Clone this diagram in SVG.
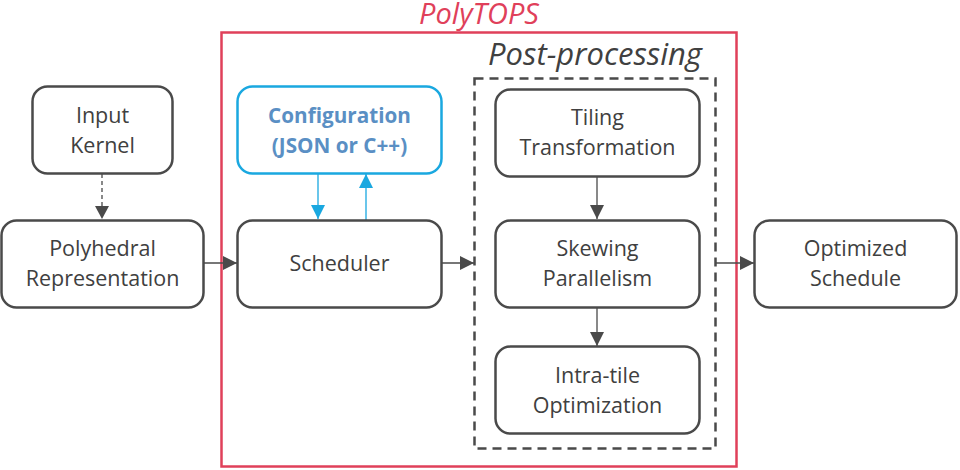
<svg xmlns="http://www.w3.org/2000/svg" width="960" height="470" viewBox="0 0 960 470">
<defs>
<style>
.box{fill:#fff;stroke:#4a4a4a;stroke-width:2.5}
.t{font-family:"Open Sans","Noto Sans",sans-serif;font-size:21.5px;fill:#404040;text-anchor:middle}
.c{stroke:#4a4a4a;stroke-width:1.3;fill:none}
.cb{stroke:#1aa8e0;stroke-width:1.3;fill:none}
</style>
<marker id="ah" viewBox="0 0 10 10" refX="10" refY="5" markerWidth="14" markerHeight="14" markerUnits="userSpaceOnUse" orient="auto"><path d="M0,0L10,5L0,10z" fill="#4a4a4a"/></marker>
<marker id="ahb" viewBox="0 0 10 10" refX="10" refY="5" markerWidth="14" markerHeight="14" markerUnits="userSpaceOnUse" orient="auto"><path d="M0,0L10,5L0,10z" fill="#1aa8e0"/></marker>
</defs>
<rect width="960" height="470" fill="#fff"/>
<g id="polytops">
<rect x="221.5" y="32.5" width="515" height="434" fill="none" stroke="#e0405a" stroke-width="2.5"/>
<text x="479" y="24" font-family="'Open Sans','Noto Sans',sans-serif" font-size="29" font-style="italic" fill="#e0405a" text-anchor="middle">PolyTOPS</text>
</g>
<g id="postprocessing">
<rect x="474.5" y="78.5" width="241" height="370" fill="none" stroke="#4a4a4a" stroke-width="2.5" stroke-dasharray="9,6"/>
<text x="595" y="65" font-family="'Open Sans','Noto Sans',sans-serif" font-size="31" font-style="italic" fill="#404040" text-anchor="middle">Post-processing</text>
</g>
<g id="connectors">
<line x1="102" y1="174" x2="102" y2="207" class="c" stroke-dasharray="4,3"/>
<line x1="203" y1="263" x2="237" y2="263" class="c" marker-end="url(#ah)"/>
<line x1="318" y1="174" x2="318" y2="219" class="cb" marker-end="url(#ahb)"/>
<line x1="366" y1="220" x2="366" y2="174" class="cb" marker-end="url(#ahb)"/>
<line x1="441" y1="263" x2="474" y2="263" class="c" marker-end="url(#ah)"/>
<line x1="597" y1="176" x2="597" y2="219" class="c" marker-end="url(#ah)"/>
<line x1="597" y1="307" x2="597" y2="346" class="c" marker-end="url(#ah)"/>
<line x1="716" y1="263" x2="754" y2="263" class="c" marker-end="url(#ah)"/>
<path d="M95,206L109,206L102,219z" fill="#4a4a4a"/>
</g>
<g id="input-kernel">
<rect class="box" x="32.5" y="86.5" width="140" height="87" rx="15"/>
<text class="t" x="102.5" y="123">Input</text>
<text class="t" x="102.5" y="153">Kernel</text>
</g>
<g id="polyhedral">
<rect class="box" x="1.5" y="220.5" width="202" height="87" rx="15"/>
<text class="t" x="102.5" y="256">Polyhedral</text>
<text class="t" x="102.5" y="286">Representation</text>
</g>
<g id="configuration">
<rect x="237.5" y="86.5" width="204" height="87" rx="15" fill="#fff" stroke="#1aa8e0" stroke-width="2.5"/>
<text class="t" x="339.5" y="123" font-weight="bold" style="fill:#5a8fc4;font-size:20.7px">Configuration</text>
<text class="t" x="339.5" y="153" font-weight="bold" style="fill:#5a8fc4;font-size:20.7px">(JSON or C++)</text>
</g>
<g id="scheduler">
<rect class="box" x="237.5" y="220.5" width="204" height="87" rx="15"/>
<text class="t" x="339.5" y="271">Scheduler</text>
</g>
<g id="tiling">
<rect class="box" x="495.5" y="89.5" width="204" height="87" rx="15"/>
<text class="t" x="597.5" y="125">Tiling</text>
<text class="t" x="597.5" y="155">Transformation</text>
</g>
<g id="skewing">
<rect class="box" x="495.5" y="220.5" width="204" height="87" rx="15"/>
<text class="t" x="597.5" y="256">Skewing</text>
<text class="t" x="597.5" y="286">Parallelism</text>
</g>
<g id="intra-tile">
<rect class="box" x="495.5" y="346.5" width="204" height="87" rx="15"/>
<text class="t" x="597.5" y="383">Intra-tile</text>
<text class="t" x="597.5" y="413">Optimization</text>
</g>
<g id="optimized">
<rect class="box" x="754.5" y="220.5" width="202" height="87" rx="15"/>
<text class="t" x="855.5" y="256">Optimized</text>
<text class="t" x="855.5" y="286">Schedule</text>
</g>
</svg>
